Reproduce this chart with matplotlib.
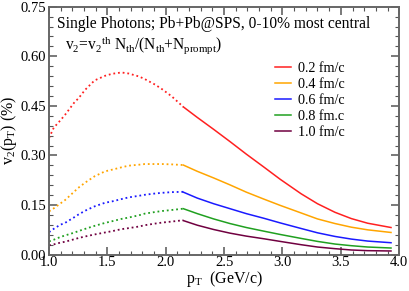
import matplotlib
matplotlib.use("Agg")
import matplotlib.pyplot as plt
from matplotlib.ticker import MultipleLocator

plt.rcParams['font.family'] = ['Liberation Serif', 'DejaVu Serif']
plt.rcParams['mathtext.fontset'] = 'custom'
plt.rcParams['mathtext.rm'] = 'Liberation Serif'
plt.rcParams['mathtext.it'] = 'Liberation Serif:italic'

labels = ['0.2 fm/c', '0.4 fm/c', '0.6 fm/c', '0.8 fm.c', '1.0 fm/c']
colors = ['#ff2020', '#ffa500', '#1a1aff', '#20a020', '#700040']

# dotted (low pT) segment
pt_dot = [1.0, 1.04, 1.094, 1.137, 1.22, 1.25, 1.31, 1.39, 1.48, 1.54, 1.62, 1.68, 1.77, 1.82, 1.91, 1.97, 2.05, 2.15]
dot_vals = [
    [0.353, 0.384, 0.405, 0.423, 0.462, 0.472, 0.499, 0.527, 0.541, 0.547, 0.551, 0.548, 0.539, 0.531, 0.514, 0.500, 0.479, 0.447],
    [0.131, 0.140, 0.154, 0.165, 0.192, 0.202, 0.218, 0.237, 0.252, 0.257, 0.264, 0.269, 0.272, 0.274, 0.274, 0.274, 0.273, 0.271],
    [0.068, 0.078, 0.090, 0.096, 0.114, 0.121, 0.133, 0.146, 0.157, 0.161, 0.168, 0.173, 0.178, 0.181, 0.185, 0.187, 0.189, 0.190],
    [0.040, 0.045, 0.053, 0.058, 0.067, 0.071, 0.078, 0.087, 0.096, 0.101, 0.108, 0.112, 0.119, 0.124, 0.129, 0.132, 0.135, 0.139],
    [0.028, 0.031, 0.036, 0.039, 0.047, 0.050, 0.055, 0.061, 0.067, 0.071, 0.077, 0.080, 0.085, 0.089, 0.094, 0.097, 0.100, 0.104],
]

# solid (high pT) segment
pt_sol = [2.15, 2.27, 2.41, 2.55, 2.69, 2.84, 2.98, 3.16, 3.30, 3.45, 3.59, 3.73, 3.93]
sol_vals = [
    [0.447, 0.415, 0.379, 0.342, 0.304, 0.265, 0.228, 0.184, 0.154, 0.128, 0.109, 0.095, 0.082],
    [0.271, 0.252, 0.232, 0.211, 0.189, 0.168, 0.149, 0.126, 0.108, 0.094, 0.083, 0.075, 0.067],
    [0.189, 0.171, 0.154, 0.139, 0.124, 0.110, 0.096, 0.079, 0.066, 0.055, 0.047, 0.041, 0.036],
    [0.139, 0.124, 0.108, 0.094, 0.082, 0.071, 0.061, 0.049, 0.040, 0.032, 0.027, 0.023, 0.020],
    [0.103, 0.089, 0.076, 0.065, 0.056, 0.048, 0.040, 0.030, 0.023, 0.018, 0.014, 0.012, 0.011],
]

fig = plt.figure(figsize=(4.09, 2.91), dpi=100)
ax = fig.add_axes([0.12, 0.125, 0.856, 0.852])

for lab, c, dv, sv in zip(labels, colors, dot_vals, sol_vals):
    ax.plot(pt_dot, dv, linestyle=(0, (1, 1.6)), color=c, lw=1.3)
    ax.plot(pt_sol, sv, linestyle='-', color=c, lw=1.1, label=lab)

ax.set_xlim(1.0, 4.0)
ax.set_ylim(0.0, 0.75)
ax.xaxis.set_minor_locator(MultipleLocator(0.1))
ax.yaxis.set_minor_locator(MultipleLocator(0.03))
ax.set_xticks([1.0, 1.5, 2.0, 2.5, 3.0, 3.5, 4.0])
ax.set_xticklabels(['1.0', '1.5', '2.0', '2.5', '3.0', '3.5', '4.0'])
ax.set_yticks([0.0, 0.15, 0.30, 0.45, 0.60, 0.75])
ax.set_yticklabels(['0.00', '0.15', '0.30', '0.45', '0.60', '0.75'])
ax.tick_params(which='both', direction='in', top=True, right=True, labelsize=10.5, color='#555555')
ax.tick_params(which='major', length=6, width=1.1)
ax.tick_params(which='minor', length=3, width=0.8)
ax.tick_params(axis='x', pad=1)
ax.tick_params(axis='y', pad=2)
for s in ax.spines.values():
    s.set_linewidth(1.4)
    s.set_color('#666666')

ax.set_xlabel(r'p$_\mathrm{T}$  (GeV/c)', fontsize=11.5, labelpad=0)
ax.set_ylabel(r'v$_2$(p$_\mathrm{T}$) (%)', fontsize=11.5, labelpad=1)

ax.text(0.023, 0.931, 'Single Photons; Pb+Pb@SPS, 0-10% most central', transform=ax.transAxes,
        fontsize=11.2, va='center', ha='left')
ax.text(0.046, 0.843, r'v$_2$=v$_2$$^\mathrm{th}$ N$_\mathrm{th}$/(N$_\mathrm{th}$+N$_\mathrm{prompt}$)',
        transform=ax.transAxes, fontsize=11.2, va='center', ha='left')

leg = ax.legend(loc='upper left', bbox_to_anchor=(0.63, 0.80), frameon=False, fontsize=10.2,
                handlelength=1.1, handletextpad=0.5, labelspacing=0.22, borderaxespad=0)

fig.savefig('out.png', dpi=100)
